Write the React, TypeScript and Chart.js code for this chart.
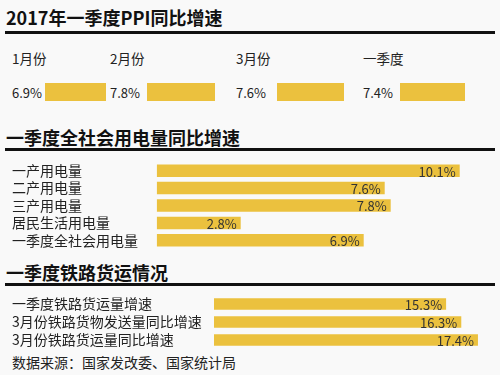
import React, { useEffect, useRef } from "react";
import { Chart, registerables } from "chart.js";

Chart.register(...registerables);

// ---------- data ----------
const ppiPeriods = ["1月份", "2月份", "3月份", "一季度"];
const ppiValues = [6.9, 7.8, 7.6, 7.4];

const powerCategories = ["一产用电量", "二产用电量", "三产用电量", "居民生活用电量", "一季度全社会用电量"];
const powerValues = [10.1, 7.6, 7.8, 2.8, 6.9];

const railCategories = ["一季度铁路货运量增速", "3月份铁路货物发送量同比增速", "3月份铁路货运量同比增速"];
const railValues = [15.3, 16.3, 17.4];

const sectionTitles = ["2017年一季度PPI同比增速", "一季度全社会用电量同比增速", "一季度铁路货运情况"];
const sourceText = "数据来源：国家发改委、国家统计局";

// ---------- style ----------
const FONT = '"Noto Sans CJK SC", "Noto Sans", sans-serif';
const YELLOW = "#ebc13e";
const BG = "#f9f9f9";
const TEXT = "#222";

const fmt = (v: number) => v.toFixed(1) + "%";

const valueLabelPlugin = {
  id: "valueLabels",
  afterDatasetsDraw(chart: any) {
    const ctx = chart.ctx;
    const meta = chart.getDatasetMeta(0);
    const values = chart.data.datasets[0].data as number[];
    ctx.save();
    ctx.font = `13px ${FONT}`;
    ctx.fillStyle = "#333";
    ctx.textAlign = "right";
    ctx.textBaseline = "middle";
    meta.data.forEach((bar: any, i: number) => {
      ctx.fillText(fmt(values[i]), bar.x - 4, bar.y + 1);
    });
    ctx.restore();
  },
};

function HBarChart(props: {
  labels: string[];
  values: number[];
  top: number;
  height: number;
  axisWidth: number;
  pxPerUnit: number;
  barPct: number;
}) {
  const ref = useRef<HTMLCanvasElement | null>(null);
  useEffect(() => {
    if (!ref.current) return;
    const padLeft = 12;
    const width = 500;
    const xMax = (width - padLeft - props.axisWidth) / props.pxPerUnit;
    const chart = new Chart(ref.current, {
      type: "bar",
      data: {
        labels: props.labels,
        datasets: [
          {
            data: props.values,
            backgroundColor: YELLOW,
            borderWidth: 0,
            barPercentage: props.barPct,
            categoryPercentage: 1,
          },
        ],
      },
      options: {
        indexAxis: "y",
        responsive: false,
        animation: false,
        devicePixelRatio: 1,
        layout: { padding: { left: padLeft, right: 0, top: 0, bottom: 0 } },
        plugins: { legend: { display: false }, tooltip: { enabled: false } },
        scales: {
          x: { display: false, min: 0, max: xMax },
          y: {
            grid: { display: false, drawTicks: false },
            border: { display: false },
            ticks: {
              autoSkip: false,
              crossAlign: "far",
              padding: 0,
              color: TEXT,
              font: { family: FONT, size: 14 },
            },
            afterFit: (scale: any) => {
              scale.width = props.axisWidth;
              scale.paddingTop = 0;
              scale.paddingBottom = 0;
            },
          },
        },
      },
      plugins: [valueLabelPlugin],
    } as any);
    return () => chart.destroy();
  }, []);
  return (
    <canvas
      ref={ref}
      width={500}
      height={props.height}
      style={{ position: "absolute", left: 0, top: props.top, width: 500, height: props.height, display: "block" }}
    />
  );
}

function BoxChart(props: { value: number; left: number; top: number; width: number; height: number }) {
  const ref = useRef<HTMLCanvasElement | null>(null);
  useEffect(() => {
    if (!ref.current) return;
    const chart = new Chart(ref.current, {
      type: "bar",
      data: {
        labels: [""],
        datasets: [
          { data: [props.value], backgroundColor: YELLOW, borderWidth: 0, barPercentage: 1, categoryPercentage: 1 },
        ],
      },
      options: {
        indexAxis: "y",
        responsive: false,
        animation: false,
        devicePixelRatio: 1,
        layout: { padding: 0 },
        plugins: { legend: { display: false }, tooltip: { enabled: false } },
        scales: {
          x: { display: false, min: 0, max: props.value },
          y: { display: false },
        },
      },
    } as any);
    return () => chart.destroy();
  }, []);
  return (
    <canvas
      ref={ref}
      width={props.width}
      height={props.height}
      style={{ position: "absolute", left: props.left, top: props.top, width: props.width, height: props.height, display: "block" }}
    />
  );
}

function Text(props: { x: number; cy: number; size: number; bold?: boolean; children: any }) {
  const lh = props.size + 4;
  return (
    <div
      style={{
        position: "absolute",
        left: props.x,
        top: props.cy - lh / 2 - 1,
        height: lh,
        lineHeight: lh + "px",
        fontFamily: FONT,
        fontSize: props.size,
        fontWeight: props.bold ? 700 : 400,
        color: props.bold ? "#111" : TEXT,
        whiteSpace: "nowrap",
      }}
    >
      {props.children}
    </div>
  );
}

function Rule(props: { top: number }) {
  return <div style={{ position: "absolute", left: 5, top: props.top, width: 490, height: 3, background: "#111" }} />;
}

const ppiTextX = [12, 110, 236, 363];
const ppiBoxX = [45, 147, 277, 400];
const ppiBoxW = [61, 68, 67, 65];

export default function App() {
  useEffect(() => {
    document.body.style.margin = "0";
    document.body.style.background = BG;
  }, []);
  return (
    <div style={{ position: "absolute", left: 0, top: 0, width: 500, height: 375, background: BG, overflow: "hidden" }}>
      <Text x={6} cy={17.5} size={18} bold>
        {sectionTitles[0]}
      </Text>
      <Rule top={31} />
      {ppiPeriods.map((p, i) => (
        <Text key={"p" + i} x={ppiTextX[i]} cy={60} size={13.5}>
          {p}
        </Text>
      ))}
      {ppiValues.map((v, i) => (
        <Text key={"v" + i} x={ppiTextX[i]} cy={93} size={13}>
          {fmt(v)}
        </Text>
      ))}
      {ppiValues.map((v, i) => (
        <BoxChart key={"b" + i} value={v} left={ppiBoxX[i]} top={83} width={ppiBoxW[i]} height={18} />
      ))}

      <Text x={6} cy={137.5} size={18} bold>
        {sectionTitles[1]}
      </Text>
      <Rule top={148} />
      <HBarChart labels={powerCategories} values={powerValues} top={161.6} height={87} axisWidth={144.7} pxPerUnit={30} barPct={0.72} />

      <Text x={6} cy={272.5} size={18} bold>
        {sectionTitles[2]}
      </Text>
      <Rule top={283} />
      <HBarChart labels={railCategories} values={railValues} top={295.2} height={54} axisWidth={202} pxPerUnit={15.17} barPct={0.65} />

      <Text x={12} cy={362.7} size={14}>
        {sourceText}
      </Text>
    </div>
  );
}
